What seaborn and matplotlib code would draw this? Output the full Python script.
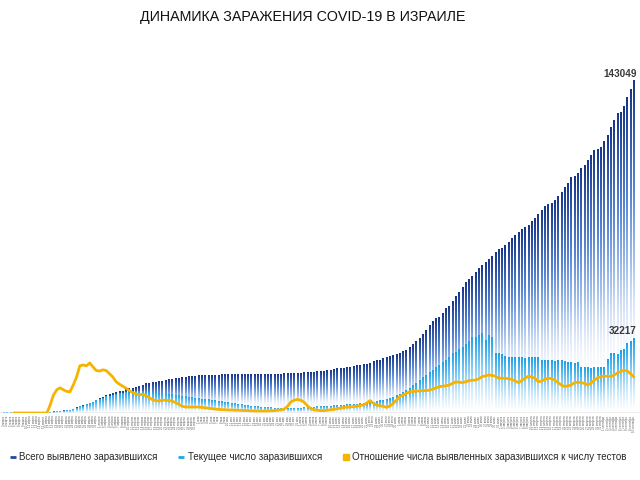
import numpy as np
import pandas as pd
import matplotlib
matplotlib.use("Agg")
import matplotlib.pyplot as plt
import seaborn as sns
from matplotlib.colors import LinearSegmentedColormap
from matplotlib.lines import Line2D

sns.set_style("white")
plt.rcParams["font.family"] = ["Liberation Sans", "DejaVu Sans"]

TITLE = "ДИНАМИКА ЗАРАЖЕНИЯ COVID-19 В ИЗРАИЛЕ"
SERIES_NAMES = ["Всего выявлено заразившихся",
                "Текущее число заразившихся",
                "Отношение числа выявленных заразившихся к числу тестов"]

MONTHS_RU = {3: "марта", 4: "апреля", 5: "мая", 6: "июня", 7: "июля",
             8: "августа", 9: "сентября"}
dates = pd.date_range("2020-03-03", "2020-09-10", freq="D")
date_labels = [f"{d.day} {MONTHS_RU[d.month]}" for d in dates]

# total detected cases
total_mar = [12, 15, 17, 21, 25, 39, 50, 58, 75, 100, 126, 193, 213, 298, 337, 433, 677, 705,
             883, 1071, 1238, 1656, 2170, 2693, 3035, 3619, 4247, 4695, 5358]
total_apr = [6092, 6857, 7428, 7851, 8430, 8904, 9248, 9404, 9968, 10408, 10743, 11145, 11586,
             12046, 12501, 12758, 13107, 13265, 13491, 13654, 13883, 14326, 14498, 14803, 15058,
             15298, 15443, 15555, 15728, 15834]
total_may = [15946, 16101, 16185, 16208, 16246, 16268, 16289, 16381, 16436, 16458, 16477, 16492,
             16506, 16539, 16548, 16579, 16598, 16617, 16643, 16650, 16667, 16690, 16712, 16717,
             16734, 16757, 16793, 16872, 16909, 16987, 17071]
total_jun = [17169, 17285, 17377, 17495, 17562, 17752, 17863, 18032, 18268, 18469, 18795, 18972,
             19055, 19237, 19495, 19783, 20035, 20338, 20633, 20778, 21082, 21512, 21983, 22400,
             22800, 23306, 24014, 24441, 24688, 25244]
total_jul = [25547, 26452, 27047, 28055, 29366, 30749, 32166, 33947, 35533, 37464, 39275, 40632,
             41235, 42863, 44997, 46059, 48093, 50117, 52003, 54055, 55968, 57432, 58975, 60496,
             62201, 63451, 64770, 66170, 67564, 69048, 70360]
total_aug = [71000, 72000, 73500, 75000, 76200, 77600, 79200, 80000, 80900, 82300, 83700, 85500,
             87300, 88900, 89700, 90300, 91600, 93300, 95100, 97000, 98800, 101300, 101600,
             103100, 105200, 106700, 108800, 111000, 113100, 113400, 114300]
total_sep = [116700, 119600, 122800, 125800, 129000, 129300, 132100, 135900, 139400, 143049]

# current (active) cases
active_mar = [12, 15, 17, 21, 25, 38, 48, 55, 70, 94, 119, 185, 204, 286, 321, 416, 657, 683,
              860, 1045, 1200, 1610, 2110, 2620, 2950, 3520, 4130, 4560, 5200]
active_apr = [5800, 6400, 6900, 7200, 7700, 8100, 8300, 8400, 8700, 8900, 9000, 9100, 9200, 9250,
              9200, 9000, 8900, 8800, 8600, 8400, 8200, 8000, 7800, 7600, 7400, 7200, 7000, 6800,
              6600, 6400]
active_may = [6200, 6000, 5800, 5600, 5400, 5200, 5000, 4800, 4600, 4400, 4200, 4000, 3800, 3600,
              3400, 3200, 3000, 2850, 2700, 2550, 2400, 2300, 2200, 2100, 2000, 1950, 1900, 1900,
              1900, 1950, 2000]
active_jun = [2100, 2200, 2300, 2400, 2500, 2600, 2700, 2800, 2900, 3000, 3100, 3200, 3300, 3400,
              3500, 3600, 3700, 3800, 3900, 4000, 4200, 4400, 4600, 4900, 5200, 5500, 5900, 6300,
              6800, 7400]
active_jul = [8000, 9000, 9800, 10700, 11700, 12800, 14000, 15200, 16300, 17400, 18100, 19600,
              20300, 21700, 22500, 23900, 25400, 26000, 27500, 28200, 29700, 30800, 32300, 32500,
              33300, 34300, 31400, 33300, 32500, 25400, 25600]
active_aug = [25000, 24200, 24000, 24100, 24000, 23900, 24000, 23300, 24000, 24100, 24000, 23800,
              22500, 22400, 22600, 22500, 22300, 22600, 22500, 22200, 21600, 21600, 21500, 21700,
              19600, 19400, 19500, 19300, 19400, 19400, 19500]
active_sep = [19800, 22900, 25500, 25500, 25200, 26800, 27200, 29800, 30600, 32217]

# ratio of detected cases to number of tests, %
nan = np.nan
ratio_mar = [nan, nan, nan, 0, 0, 0, 0, 0, 0, 0, 0, 0, 0, 0, 2.0, 4.5, 5.8, 6.3, 5.8, 5.4, 5.3,
             7.0, 9.0, 11.8, 12.0, 11.8, 12.5, 11.5, 10.6]
ratio_apr = [10.5, 10.8, 10.6, 9.8, 9.0, 7.8, 7.2, 6.7, 6.2, 5.6, 5.1, 4.8, 4.5, 4.7, 4.3, 3.9,
             3.3, 3.1, 3.0, 3.2, 3.2, 3.1, 3.0, 2.6, 2.2, 1.7, 1.5, 1.5, 1.5, 1.5]
ratio_may = [1.5, 1.4, 1.3, 1.2, 1.1, 1.0, 0.9, 0.85, 0.8, 0.75, 0.75, 0.7, 0.7, 0.65, 0.6, 0.6,
             0.55, 0.5, 0.5, 0.5, 0.5, 0.5, 0.55, 0.6, 0.7, 0.8, 1.0, 1.7, 2.8, 3.2, 3.4]
ratio_jun = [3.2, 2.7, 1.8, 1.1, 0.8, 0.7, 0.6, 0.6, 0.7, 0.8, 0.9, 1.1, 1.2, 1.4, 1.5, 1.5, 1.6,
             1.7, 1.9, 2.0, 2.5, 3.1, 2.4, 2.0, 1.8, 1.7, 1.4, 1.8, 2.4, 3.2]
ratio_jul = [4.1, 4.5, 4.9, 5.3, 5.4, 5.5, 5.5, 5.6, 5.6, 5.7, 6.0, 6.3, 6.6, 6.7, 6.8, 7.0, 7.4,
             7.8, 7.7, 7.6, 7.8, 8.1, 8.2, 8.2, 8.6, 9.1, 9.3, 9.5, 9.4, 9.2, 8.7]
ratio_aug = [8.7, 8.7, 8.6, 8.4, 8.0, 7.6, 8.1, 8.7, 9.2, 9.0, 8.7, 7.8, 8.0, 8.4, 8.7, 8.6, 8.2,
             7.6, 7.0, 6.6, 6.8, 7.0, 7.6, 7.7, 7.6, 7.4, 7.0, 7.5, 8.2, 8.8, 9.1]
ratio_sep = [9.2, 9.2, 9.1, 9.5, 10.0, 10.4, 10.7, 10.5, 9.8, 9.0]

total = total_mar + total_apr + total_may + total_jun + total_jul + total_aug + total_sep
active = active_mar + active_apr + active_may + active_jun + active_jul + active_aug + active_sep
ratio = ratio_mar + ratio_apr + ratio_may + ratio_jun + ratio_jul + ratio_aug + ratio_sep

df = pd.DataFrame({"date": date_labels, "total": total, "active": active, "ratio": ratio})
n = len(df)

fig = plt.figure(figsize=(6.4, 4.8), dpi=100)
ax = fig.add_axes([0, 67 / 480, 1, 353 / 480])

sns.barplot(data=df, x="date", y="total", color="#1f3f8f", width=0.52, saturation=1, ax=ax)
n_tot = len(ax.patches)
sns.barplot(data=df, x="date", y="active", color="#22a5e6", width=0.52, saturation=1, ax=ax)
bars_tot = list(ax.patches[:n_tot])
bars_act = list(ax.patches[n_tot:])

cmap_dark = LinearSegmentedColormap.from_list(
    "dark", [(0.0, (1, 1, 1, 0)), (0.22, (0.93, 0.95, 0.99, 0.5)),
             (0.45, (0.66, 0.77, 0.93, 1)), (0.68, (0.34, 0.52, 0.83, 1)),
             (1.0, (0.09, 0.21, 0.54, 1))])
cmap_light = LinearSegmentedColormap.from_list(
    "light", [(0.0, (1, 1, 1, 0)), (0.15, (0.88, 0.95, 0.99, 0.6)),
              (0.6, (0.52, 0.80, 0.96, 1)), (1.0, (0.11, 0.63, 0.91, 1))])

grad = np.linspace(0, 1, 256).reshape(-1, 1)


def gradientize(bars, cmap, z):
    for b in bars:
        h = b.get_height()
        x0 = b.get_x()
        w = b.get_width()
        b.remove()
        if not np.isfinite(h) or h <= 0:
            continue
        ax.imshow(grad, extent=[x0, x0 + w, 0, h], origin="lower", aspect="auto",
                  cmap=cmap, interpolation="bilinear", zorder=z)


gradientize(bars_tot, cmap_dark, 1)
gradientize(bars_act, cmap_light, 2)

ax.axhline(0, color="#ededed", lw=1.5, zorder=0.5)

step = 3.298
xlim = (-4 / step, (640 - 4) / step)
ax.set_xlim(*xlim)
ax.set_ylim(0, 353 * 430.5)
ax.set_yticks([])
ax.set_xlabel("")
ax.set_ylabel("")
for s in ax.spines.values():
    s.set_visible(False)
ax.set_xticks(range(n))
ax.set_xticklabels(date_labels, rotation=90, fontsize=2.0, color="#555555")
ax.tick_params(axis="x", length=0, pad=2)

# value labels for the last bars
last = n - 1
ax.annotate(f"{total[last]}", xy=(last, total[last]), xytext=(2, 1.5),
            textcoords="offset points", ha="right", va="bottom", fontsize=7.2,
            fontweight="bold", color="#3a3a3a", annotation_clip=False)
ax.annotate(f"{active[last]}", xy=(last, active[last]), xytext=(2, 1.5),
            textcoords="offset points", ha="right", va="bottom", fontsize=7.2,
            fontweight="bold", color="#3a3a3a", annotation_clip=False)

ax2 = ax.twinx()
sns.lineplot(x=np.arange(n), y=df["ratio"], ax=ax2, color="#f6b300", lw=2)
ax2.set_ylim(0, 353 / 4)
ax2.set_xlim(*xlim)
ax2.axis("off")

fig.text(140 / 640, 1 - 17 / 480, TITLE, fontsize=10.3, ha="left", va="center", color="#111111")

handles = [Line2D([], [], ls="none", marker="_", ms=4, mew=2, color="#1f4a9e"),
           Line2D([], [], ls="none", marker="_", ms=4, mew=2, color="#22a5e6"),
           Line2D([], [], ls="none", marker="s", ms=4, color="#f6b300")]
fig.legend(handles, SERIES_NAMES, loc="center", bbox_to_anchor=(318 / 640, 1 - 457 / 480), ncol=3,
           frameon=False, fontsize=7, handlelength=0.7, handletextpad=0.3, columnspacing=2.1)

fig.savefig("out.png", dpi=100)
